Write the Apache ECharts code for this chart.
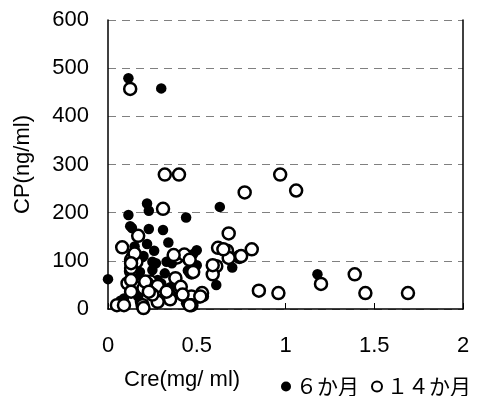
<!DOCTYPE html>
<html><head><meta charset="utf-8">
<script src="https://cdn.jsdelivr.net/npm/echarts@6/dist/echarts.min.js"></script>
<style>html,body{margin:0;padding:0;background:#fff}#c{width:487px;height:396px}</style>
</head><body><div id="c"></div>
<script>
const seriesNames = ['６か月', '１４か月'];
const xTicks = [0, 0.5, 1, 1.5, 2];
const yTicks = [0, 100, 200, 300, 400, 500, 600];
const xAxisTitle = 'Cre(mg/ ml)';
const yAxisTitle = 'CP(ng/ml)';
const month6 = [
  [0.0, 62], [0.115, 479], [0.30, 458], [0.115, 195], [0.23, 204], [0.22, 219], [0.44, 190],
  [0.125, 172], [0.23, 166], [0.31, 164], [0.34, 138], [0.135, 168], [0.26, 121], [0.20, 110],
  [0.27, 95], [0.33, 98], [0.48, 114], [0.50, 122], [0.50, 91], [0.61, 50], [0.70, 86],
  [0.63, 212], [0.18, 77], [0.32, 74], [0.205, 57], [0.37, 64], [0.39, 50], [0.42, 26],
  [0.07, 17], [0.17, 26], [0.20, 5], [0.44, 12], [0.54, 26], [0.25, 98], [1.18, 72],
  [0.15, 130], [0.22, 135], [0.40, 35], [0.24, 30], [0.35, 45], [0.12, 60], [0.28, 60],
  [0.16, 100], [0.36, 95], [0.45, 80], [0.38, 105], [0.16, 70], [0.25, 81], [0.30, 53],
  [0.09, 22], [0.18, 15], [0.29, 19], [0.51, 22], [0.195, 108]
];
const month14 = [
  [0.125, 457], [0.32, 279], [0.40, 279], [0.31, 208], [0.77, 242], [0.97, 279], [1.06, 246],
  [0.68, 157], [1.20, 52], [1.39, 72], [1.45, 33], [1.69, 33], [0.96, 33], [0.85, 38],
  [0.62, 127], [0.67, 121], [0.81, 124], [0.74, 108], [0.68, 106], [0.61, 89], [0.59, 72],
  [0.47, 76], [0.53, 33], [0.08, 128], [0.17, 152], [0.14, 108], [0.16, 98], [0.13, 78],
  [0.15, 46], [0.24, 57], [0.30, 40], [0.05, 8], [0.09, 8], [0.195, 8], [0.39, 107],
  [0.43, 113], [0.40, 43], [0.13, 102], [0.13, 85], [0.22, 53], [0.11, 53], [0.20, 43],
  [0.28, 48], [0.38, 64], [0.41, 46], [0.47, 26], [0.52, 26], [0.28, 15], [0.47, 8],
  [0.59, 91], [0.35, 20], [0.25, 30], [0.42, 30], [0.65, 124], [0.75, 110],
  [0.15, 115], [0.13, 95], [0.13, 60], [0.21, 57], [0.13, 36], [0.23, 36], [0.33, 36],
  [0.37, 112], [0.46, 102], [0.48, 77], [0.20, 2], [0.46, 8]
];

const chart = echarts.init(document.getElementById('c'), null, {renderer: 'canvas'});
const font = 'Liberation Sans, Arial, sans-serif';
chart.setOption({
  animation: false,
  backgroundColor: '#fff',
  grid: {left: 108, right: 24, top: 20, bottom: 87},
  xAxis: {
    type: 'value', min: xTicks[0], max: xTicks[xTicks.length - 1], interval: 0.5,
    axisLine: {show: true, lineStyle: {color: '#000', width: 1.5}},
    axisTick: {show: true, inside: true, length: 6, lineStyle: {color: '#000'}},
    axisLabel: {color: '#000', fontSize: 22, fontFamily: font, margin: 26},
    splitLine: {show: false}
  },
  yAxis: [{
    type: 'value', min: yTicks[0], max: yTicks[yTicks.length - 1], interval: 100,
    name: yAxisTitle, nameLocation: 'middle', nameGap: 74,
    nameTextStyle: {color: '#000', fontSize: 22, fontFamily: font},
    axisLine: {show: true, lineStyle: {color: '#000', width: 1.5}},
    axisTick: {show: false},
    axisLabel: {color: '#000', fontSize: 22, fontFamily: font, margin: 19, padding: [6, 0, 0, 0]},
    splitLine: {show: true, lineStyle: {color: '#808080', type: [8, 6], width: 1}}
  }, {
    type: 'value', position: 'right', min: yTicks[0], max: yTicks[yTicks.length - 1], interval: 100,
    axisLine: {show: true, lineStyle: {color: '#000', width: 1.5}},
    axisTick: {show: false}, axisLabel: {show: false}, splitLine: {show: false}
  }],
  legend: {
    left: 276, top: 371, itemWidth: 10, itemHeight: 10, itemGap: 12,
    textStyle: {color: '#000', fontSize: 21, fontFamily: 'Noto Sans CJK JP'},
    data: [{name: seriesNames[0], icon: 'circle'}, {name: seriesNames[1], icon: 'circle'}]
  },
  graphic: [{
    type: 'text', left: 124, top: 369,
    style: {text: xAxisTitle, fill: '#000', font: '22px ' + font}
  }],
  series: [{
    name: seriesNames[0], type: 'scatter', data: month6, symbol: 'circle', symbolSize: 10.5,
    itemStyle: {color: '#000', opacity: 1}
  }, {
    name: seriesNames[1], type: 'scatter', data: month14, symbol: 'circle', symbolSize: 12,
    itemStyle: {color: '#fff', borderColor: '#000', borderWidth: 2.5, opacity: 1}
  }]
});
</script></body></html>
